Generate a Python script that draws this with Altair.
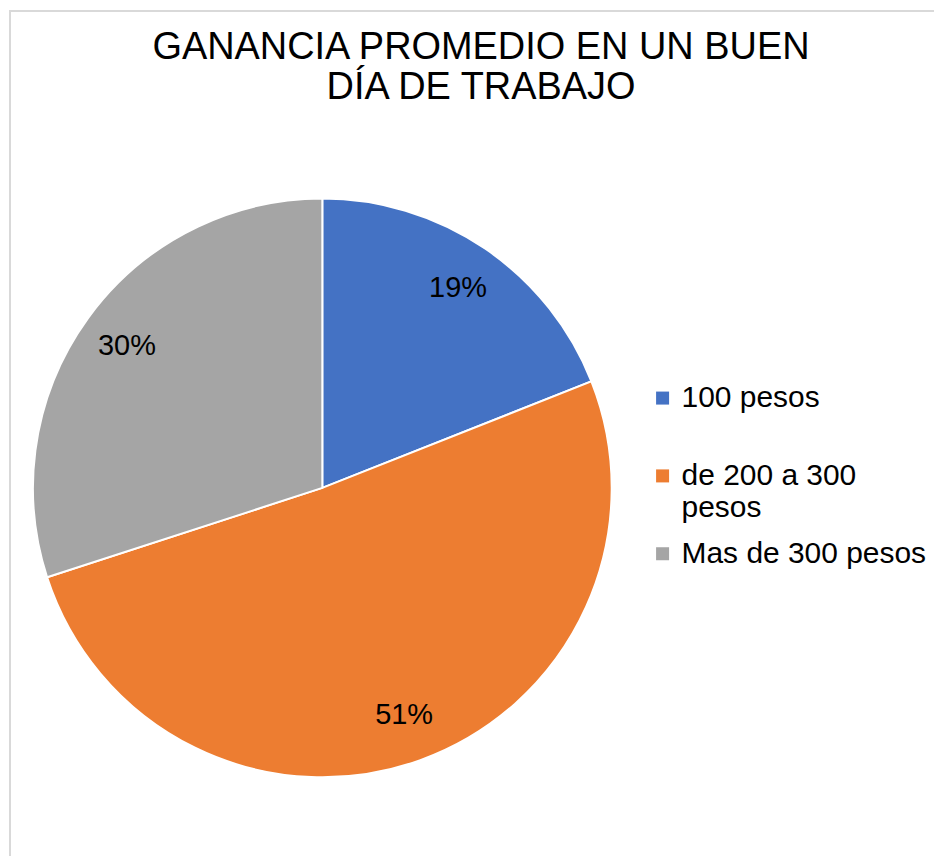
import altair as alt
import pandas as pd

categories = ["100 pesos", "de 200 a 300 pesos", "Mas de 300 pesos"]
values = [19, 51, 30]
labels = ["19%", "51%", "30%"]
colors = ["#4472C4", "#ED7D31", "#A5A5A5"]

df = pd.DataFrame({"cat": categories, "val": values, "lab": labels, "ord": [0, 1, 2]})

W, H = 927, 848
CX, CY, R = 314, 479, 290

base = alt.Chart(df).encode(
    theta=alt.Theta("val:Q", stack=True),
    order=alt.Order("ord:Q"),
)

pie = base.mark_arc(outerRadius=R, stroke="white", strokeWidth=2).encode(
    x=alt.value(CX),
    y=alt.value(CY),
    color=alt.Color(
        "cat:N",
        scale=alt.Scale(domain=categories, range=colors),
        sort=categories,
        legend=alt.Legend(
            title=None,
            orient="none",
            legendX=640,
            legendY=374,
            symbolType="square",
            symbolSize=170,
            symbolStrokeWidth=0,
            labelFontSize=30,
            labelFont="Liberation Sans",
            labelColor="#000000",
            labelOffset=4,
            labelLimit=400,
            rowPadding=16,
            gridAlign="all",
            labelExpr="datum.label == 'de 200 a 300 pesos' ? ['de 200 a 300', 'pesos'] : datum.label",
        ),
    ),
)

text = base.mark_text(radius=242, fontSize=29, font="Liberation Sans", color="#000000").encode(
    x=alt.value(CX),
    y=alt.value(CY),
    text="lab:N",
)

border_df = pd.DataFrame({"k": [0]})
border_left = alt.Chart(border_df).mark_rule(color="#d9d9d9", strokeWidth=2).encode(
    x=alt.value(1), y=alt.value(0), y2=alt.value(H)
)
border_top = alt.Chart(border_df).mark_rule(color="#d9d9d9", strokeWidth=2).encode(
    y=alt.value(1), x=alt.value(0), x2=alt.value(W)
)

chart = alt.layer(border_left, border_top, pie, text).properties(
    width=W,
    height=H,
    padding=0,
    title=alt.Title(
        ["GANANCIA PROMEDIO EN UN BUEN", "DÍA DE TRABAJO"],
        fontSize=38,
        font="Liberation Sans",
        fontWeight="normal",
        color="#000000",
        anchor="start",
        align="center",
        lineHeight=40,
        offset=-98,
        dx=474,
    ),
).configure_view(stroke=None)

chart.save("out.html", embed_options={"renderer": "svg", "actions": False})
